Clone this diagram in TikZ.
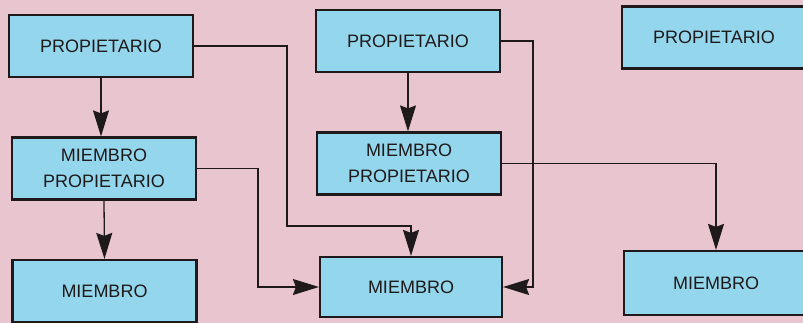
\documentclass[tikz,border=0pt]{standalone}
\usepackage{fontspec}
\setmainfont{Liberation Sans}
\usetikzlibrary{arrows.meta, positioning}
\definecolor{ownerpink}{HTML}{E9C6CF}
\definecolor{ownerblue}{HTML}{94D6EC}
\definecolor{ownerdark}{HTML}{1E1A1C}

\begin{document}
\begin{tikzpicture}[x=1pt, y=-1pt,
  ownerbox/.style={draw=ownerdark, line width=2.2pt, fill=ownerblue,
    minimum width=184pt, minimum height=62pt, inner sep=0pt,
    align=center, font=\fontsize{18}{26}\selectfont, text=ownerdark},
  link/.style={draw=ownerdark, line width=1.3pt,
    -{Stealth[length=26pt, width=16pt, inset=3pt]}}]
  % Background
  \fill[ownerpink] (0,0) rectangle (803,323);
  \clip (0,0) rectangle (803,323);

  % Left column
  \node[ownerbox] (p1) at (101,46) {PROPIETARIO};
  \node[ownerbox] (mp1) at (104,168.5) {MIEMBRO\\PROPIETARIO};
  \node[ownerbox] (m1) at (104.5,291) {MIEMBRO};

  % Middle column
  \node[ownerbox] (p2) at (408,41) {PROPIETARIO};
  \node[ownerbox] (mp2) at (409,163.5) {MIEMBRO\\PROPIETARIO};
  \node[ownerbox, minimum width=182pt, minimum height=60pt] (m2) at (411,287) {MIEMBRO};

  % Right column
  \node[ownerbox] (p3) at (714,37.5) {PROPIETARIO};
  \node[ownerbox, minimum height=64pt] (m3) at (716,283) {MIEMBRO};

  % Links
  \draw[link] (p1.south) -- (p1.south |- mp1.north);
  \draw[link] (mp1.south) -- (m1.north);
  \draw[link] (p2.south) -- (p2.south |- mp2.north);
  \draw[link] (p1.east) -| ++(93,180) -| (m2.north);
  \draw[link] (mp1.east) -- ++(61,0) |- (m2.west);
  \draw[link] (p2.east) -- ++(32,0) |- (m2.east);
  \draw[link] (mp2.east) -| (m3.north);
\end{tikzpicture}
\end{document}
